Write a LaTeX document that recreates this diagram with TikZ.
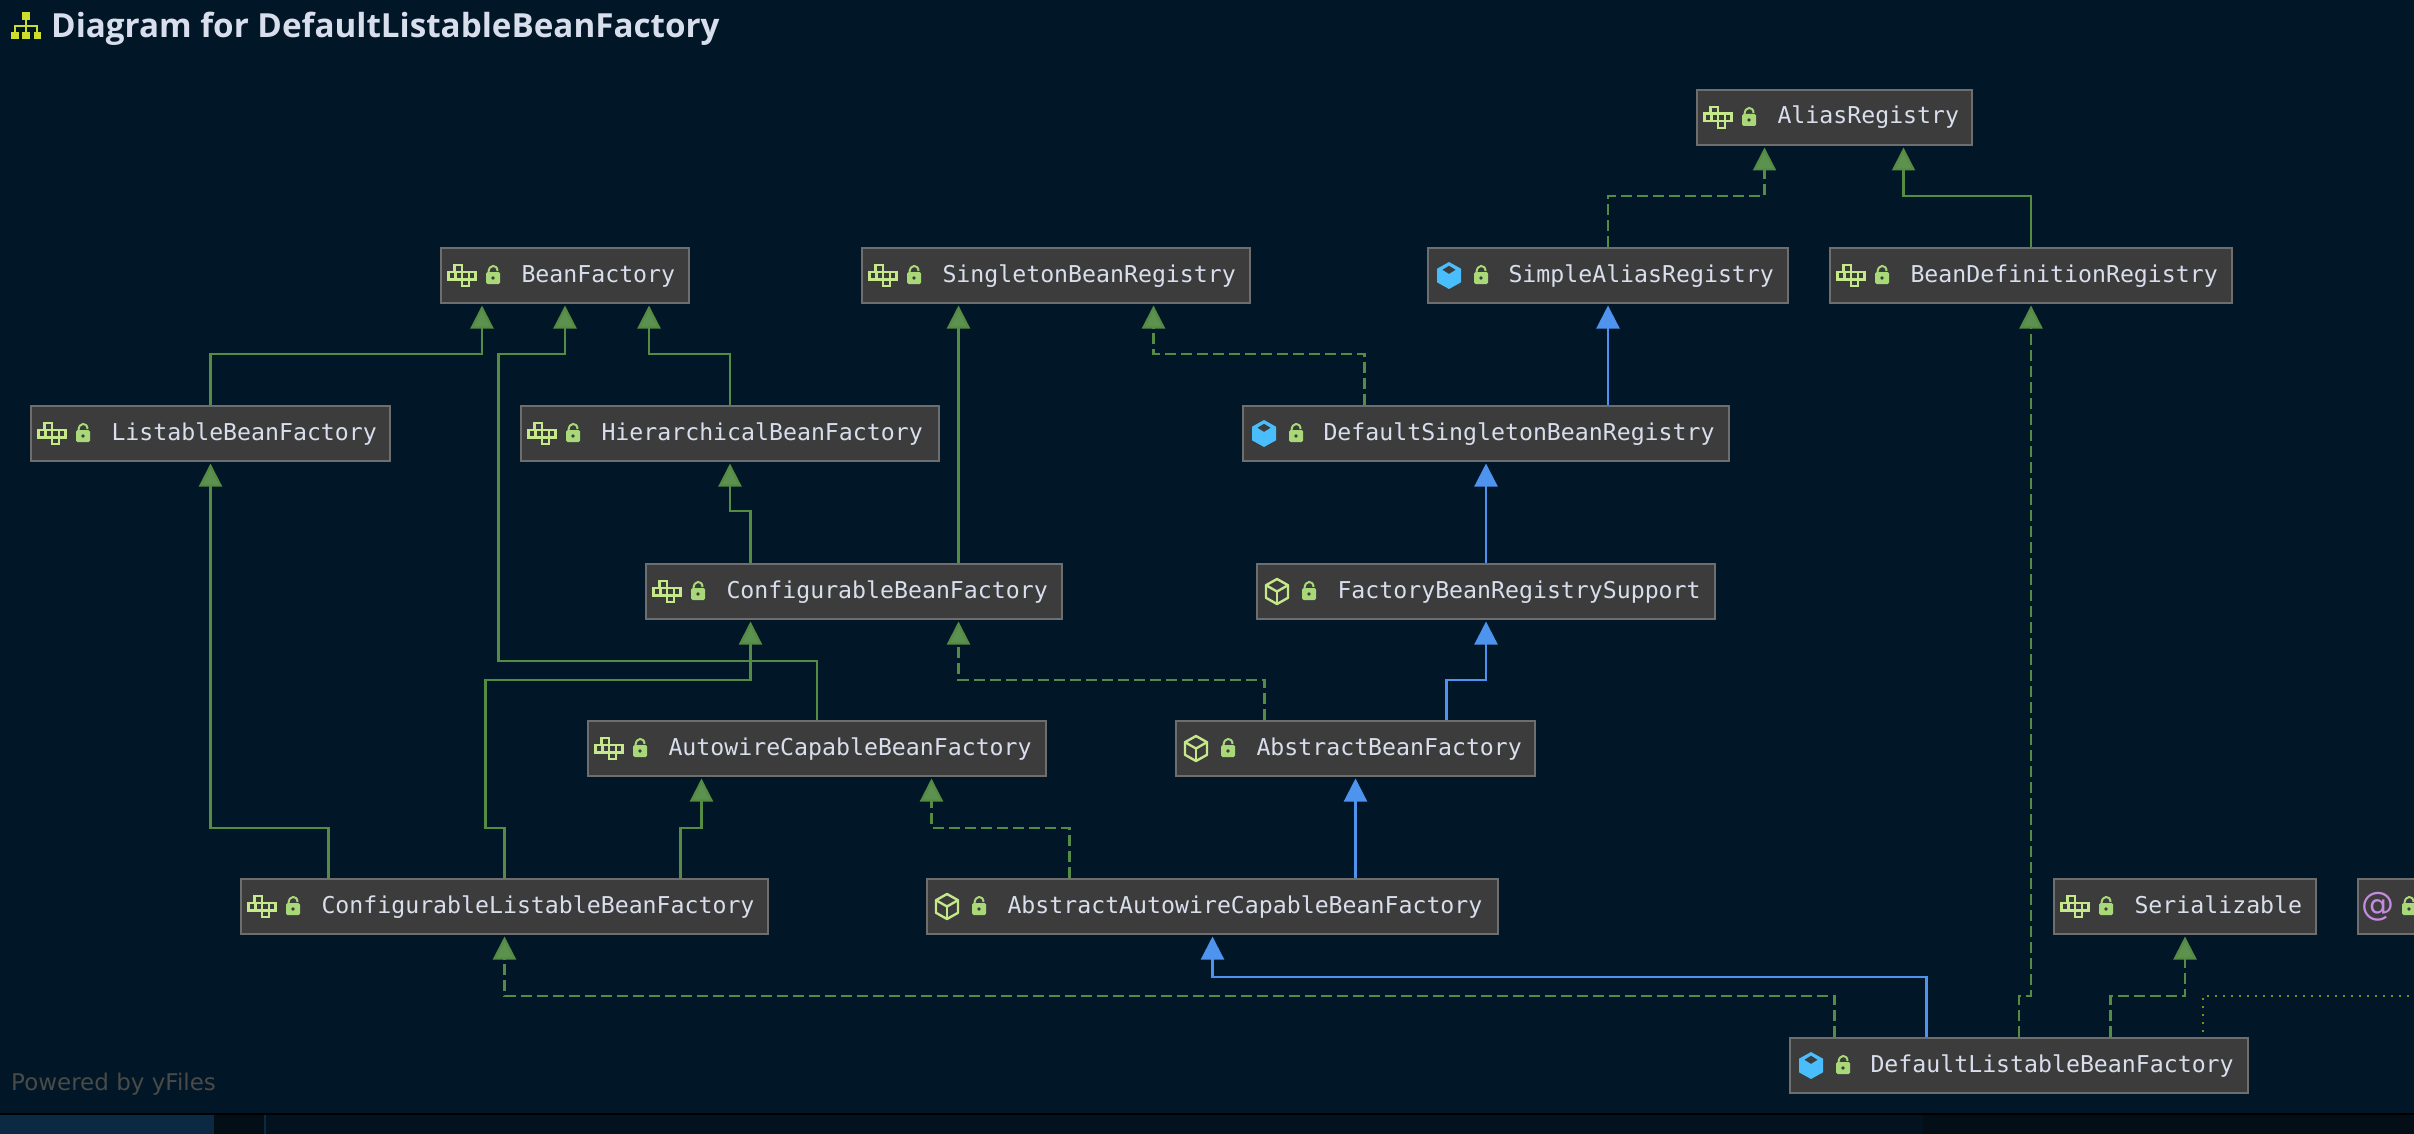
\documentclass[tikz,border=0pt]{standalone}
\usepackage{fontspec}
\setmainfont{Open Sans}
\setsansfont{DejaVu Sans}
\setmonofont{DejaVu Sans Mono}
\usetikzlibrary{
	arrows.meta,
	calc
}
\definecolor{NightBg}{RGB}{1,22,39}
\definecolor{PanelBg}{RGB}{2,18,31}
\definecolor{TabBg}{RGB}{11,41,66}
\definecolor{EditorBg}{RGB}{3,14,22}
\definecolor{BoxFill}{RGB}{60,60,60}
\definecolor{BoxLine}{RGB}{110,110,110}
\definecolor{BoxText}{RGB}{216,222,236}
\definecolor{FootText}{RGB}{74,74,72}
\definecolor{LinkGreen}{RGB}{84,140,68}
\definecolor{TipGreen}{RGB}{93,145,80}
\definecolor{LinkBlue}{RGB}{78,148,238}
\definecolor{LinkOlive}{RGB}{125,140,30}
\definecolor{IconGreen}{RGB}{197,232,138}
\definecolor{LockGreen}{RGB}{168,216,120}
\definecolor{CubeBlue}{RGB}{74,190,252}
\definecolor{AtPurple}{RGB}{197,139,224}
\definecolor{TreeYellow}{RGB}{206,220,46}
\tikzset{
	beanbox/.style={draw=BoxLine, fill=BoxFill, line width=2pt, anchor=north west, inner sep=0pt,
		minimum height=55pt, text width=#1pt, align=left, text=BoxText, text height=18pt, text depth=5pt,
		font=\ttfamily\fontsize{23.2}{28}\selectfont},
	implink/.style={draw=LinkGreen, line width=2.2pt, -{Triangle[length=23pt,width=23pt,fill=TipGreen]}, shorten >=1.5pt},
	dashlink/.style={implink, dash pattern=on 11pt off 5pt},
	extlink/.style={draw=LinkBlue, line width=2.2pt, -{Triangle[length=23pt,width=23pt]}, shorten >=1.5pt},
	dotlink/.style={draw=LinkOlive, line width=2pt, dash pattern=on 2pt off 6pt},
	lockicon/.pic={
		\fill[LockGreen, rounded corners=1.5pt] (-7,-3.5) rectangle (7,8.5);
		\draw[LockGreen, line width=2pt] (-4.5,-3) .. controls (-4.5,-11.5) and (4.5,-11.5) .. (4.5,-4.5);
		\fill[BoxFill] (0,2.5) circle (1.8);
	},
	ifaceicon/.pic={
		\draw[IconGreen, line width=2.6pt] (-7.3,-10.6) rectangle (0,-3.7);
		\foreach \c in {-13.6,-6.8,0,6.8}
		\draw[IconGreen, line width=2.6pt] (\c,-3.7) rectangle ++(6.8,7.4);
		\draw[IconGreen, line width=2.6pt] (0,3.7) rectangle (6.8,10.6);
	},
	cubeicon/.pic={
		\draw[IconGreen, line width=2.4pt, line join=round] (0,-12.5)--(11,-6.3)--(11,6.3)--(0,12.5)--(-11,6.3)--(-11,-6.3)--cycle;
		\draw[IconGreen, line width=2.4pt, line join=round] (-11,-6.3)--(0,0)--(11,-6.3);
		\draw[IconGreen, line width=2.4pt] (0,0)--(0,12.5);
	},
	solidcube/.pic={
		\fill[CubeBlue, line join=round] (0,-13.5)--(12,-6.8)--(12,6.8)--(0,13.5)--(-12,6.8)--(-12,-6.8)--cycle;
		\fill[BoxFill] (0,-9.7)--(6.5,-5.7)--(0,-1.7)--(-6.5,-5.7)--cycle;
	}
}

\begin{document}
\begin{tikzpicture}[x=1pt, y=-1pt]
	\useasboundingbox (0,0) rectangle (2414,1134);
	\fill[NightBg] (0,0) rectangle (2414,1134);
	% bottom strip of the window
	\fill[PanelBg] (0,1114) rectangle (1923,1134);
	\fill[EditorBg] (1923,1114) rectangle (2414,1134);
	\fill[EditorBg] (214,1114) rectangle (264,1134);
	\fill[TabBg] (0,1115) rectangle (214,1134);
	\fill[TabBg] (264,1115) rectangle (266,1134);
	\fill[black] (0,1113) rectangle (2414,1115);
	% title
	\fill[TreeYellow] (22,12) rectangle (29.5,20);
	\fill[TreeYellow] (11,32) rectangle (18.5,39.5);
	\fill[TreeYellow] (22,32) rectangle (29.5,39.5);
	\fill[TreeYellow] (33.5,32) rectangle (41,39.5);
	\draw[TreeYellow, line width=1.6pt] (14.7,32)--(14.7,26)--(37.2,26)--(37.2,32) (25.7,20)--(25.7,32);
	\node[anchor=base west, inner sep=0pt, text=BoxText, font=\bfseries\fontsize{33.2}{38}\selectfont] (title) at (51,38) {Diagram for DefaultListableBeanFactory};
	\node[anchor=base west, inner sep=0pt, text=FootText, font=\sffamily\fontsize{23}{28}\selectfont] (yfiles) at (11,1090) {Powered by yFiles};
	% boxes
	\foreach \n/\x/\y/\w/\lab in {alias/1696/89/275/AliasRegistry, bf/440/247/248/BeanFactory, sbr/861/247/388/SingletonBeanRegistry,
		bdr/1829/247/402/BeanDefinitionRegistry, lbf/30/405/359/ListableBeanFactory, hbf/520/405/418/HierarchicalBeanFactory,
		cbf/645/563/416/ConfigurableBeanFactory, acbf/587/720/458/AutowireCapableBeanFactory,
		clbf/240/878/527/ConfigurableListableBeanFactory, ser/2053/878/262/Serializable}
	{
		\node[beanbox=\w] (\n) at (\x,\y) {\hspace*{80.5pt}\lab};
		\pic at ($(\n.west)+(22,0)$) {ifaceicon};
		\pic at ($(\n.west)+(53,0)$) {lockicon};
	}
	\foreach \n/\x/\y/\w/\lab in {frs/1256/563/458/FactoryBeanRegistrySupport, abf/1175/720/359/AbstractBeanFactory,
		aacbf/926/878/571/AbstractAutowireCapableBeanFactory}
	{
		\node[beanbox=\w] (\n) at (\x,\y) {\hspace*{80.5pt}\lab};
		\pic at ($(\n.west)+(21,0)$) {cubeicon};
		\pic at ($(\n.west)+(53,0)$) {lockicon};
	}
	\foreach \n/\x/\y/\w/\lab in {sar/1427/247/360/SimpleAliasRegistry, dsbr/1242/405/486/DefaultSingletonBeanRegistry,
		dlbf/1789/1037/458/DefaultListableBeanFactory}
	{
		\node[beanbox=\w] (\n) at (\x,\y) {\hspace*{80.5pt}\lab};
		\pic at ($(\n.west)+(22,0)$) {solidcube};
		\pic at ($(\n.west)+(54,0)$) {lockicon};
	}
	% annotation box, cut by the right edge
	\node[beanbox=100] (anno) at (2357,878) {};
	\node[text=AtPurple, inner sep=0pt, font=\sffamily\fontsize{33}{36}\selectfont] (annosign) at ($(anno.west)+(21,0)$) {@};
	\pic at ($(anno.west)+(52,0)$) {lockicon};
	\coordinate (offright) at (2414,996);
	% links
	\draw[implink] (lbf.north) -- ++(0,-51) -| ([xshift=-83]bf.south);
	\draw[implink] (hbf.north) -- ++(0,-51) -| ([xshift=84]bf.south);
	\draw[implink] (acbf.north) -- ++(0,-59) -- ++(-318.5,0) -- ++(0,-307) -| (bf.south);
	\draw[implink] ([xshift=-176]clbf.north) -- ++(0,-50) -| (lbf.south);
	\draw[implink] (clbf.north) -- ++(0,-50) -- ++(-19,0) -- ++(0,-148) -| ([xshift=-103.5]cbf.south);
	\draw[implink] ([xshift=176]clbf.north) -- ++(0,-50) -| ([xshift=-115.5]acbf.south);
	\draw[implink] ([xshift=-103.5]cbf.north) -- ++(0,-52) -| (hbf.south);
	\draw[implink] ([xshift=104.5]cbf.north) -- ([xshift=-97.5]sbr.south);
	\draw[implink] (bdr.north) -- ++(0,-51) -| ([xshift=69]alias.south);
	\draw[dashlink] ([xshift=-143]aacbf.north) -- ++(0,-50) -| ([xshift=114.5]acbf.south);
	\draw[dashlink] ([xshift=-91]abf.north) -- ++(0,-40) -| ([xshift=104.5]cbf.south);
	\draw[dashlink] ([xshift=-121.5]dsbr.north) -- ++(0,-51) -| ([xshift=97.5]sbr.south);
	\draw[dashlink] (sar.north) -- ++(0,-51) -| ([xshift=-70]alias.south);
	\draw[dashlink] (dlbf.north) -- ++(0,-41) -| (bdr.south);
	\draw[dashlink] ([xshift=91.5]dlbf.north) -- ++(0,-41) -| (ser.south);
	\draw[dashlink] ([xshift=-184.5]dlbf.north) -- ++(0,-41) -| (clbf.south);
	\draw[extlink] ([xshift=91]abf.north) -- ++(0,-40) -| (frs.south);
	\draw[extlink] (frs.north) -- (dsbr.south);
	\draw[extlink] ([xshift=122]dsbr.north) -- (sar.south);
	\draw[extlink] ([xshift=143]aacbf.north) -- (abf.south);
	\draw[extlink] ([xshift=-92.5]dlbf.north) -- ++(0,-60) -| (aacbf.south);
	\draw[dotlink, shorten <=5pt] ([xshift=183.5]dlbf.north) -- ++(0,-41) -- (offright);
\end{tikzpicture}
\end{document}
